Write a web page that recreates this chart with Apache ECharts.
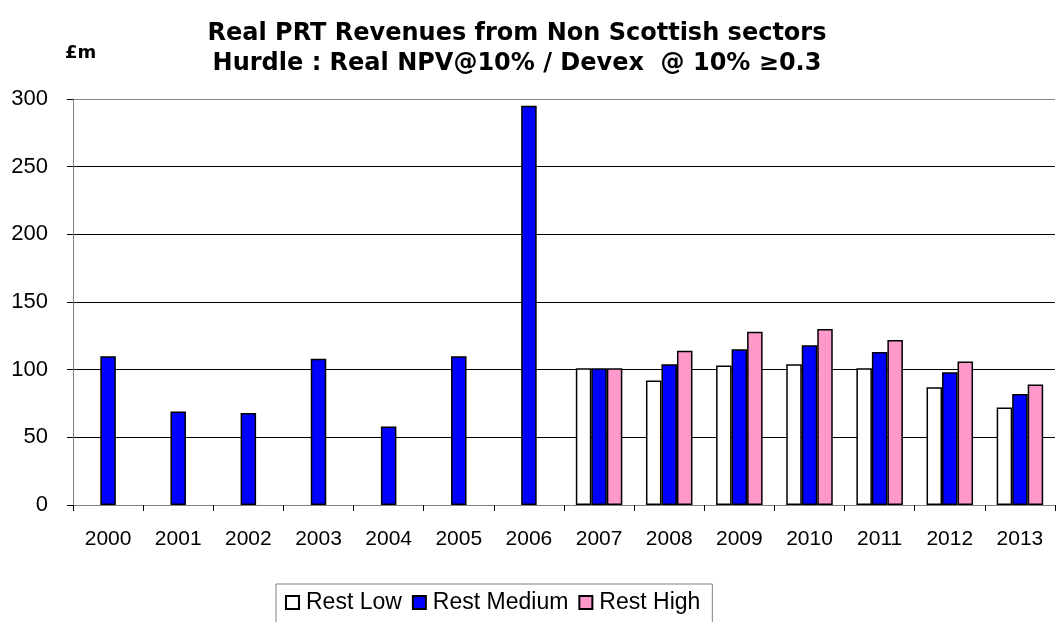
<!DOCTYPE html>
<html>
<head>
<meta charset="utf-8">
<script src="https://cdn.jsdelivr.net/npm/echarts@6/dist/echarts.min.js"></script>
<style>
html,body{margin:0;padding:0;background:#fff;}
#chart{width:1056px;height:622px;}
</style>
</head>
<body>
<div id="chart"></div>
<script>
const categories = ['2000','2001','2002','2003','2004','2005','2006','2007','2008','2009','2010','2011','2012','2013'];
const restLow    = [null, null, null, null, null, null, null, 101, 92, 103, 104, 101, 87, 72];
const restMedium = [110, 69, 68, 108, 58, 110, 295, 101, 104, 115, 118, 113, 98, 82];
const restHigh   = [null, null, null, null, null, null, null, 101, 114, 128, 130, 122, 106, 89];
const yTicks = [0, 50, 100, 150, 200, 250, 300];

const chart = echarts.init(document.getElementById('chart'));
const barBorder = {borderColor:'#000', borderWidth:1.5};
chart.setOption({
  animation:false,
  backgroundColor:'#fff',
  title:[{
    text:'Real PRT Revenues from Non Scottish sectors\nHurdle : Real NPV@10% / Devex  @ 10% \u22650.3',
    left:512, top:14, textAlign:'center',
    textStyle:{fontFamily:'DejaVu Sans', fontWeight:'bold', fontSize:24, lineHeight:30, color:'#000'}
  },{
    text:'£m', left:60, top:39,
    textStyle:{fontFamily:'DejaVu Sans', fontWeight:'bold', fontSize:18, color:'#000'}
  }],
  legend:{
    left:276, top:584,
    padding:[7,12,40,9],
    borderColor:'#808080', borderWidth:1,
    itemWidth:13, itemHeight:13, itemGap:10,
    icon:'rect',
    textStyle:{fontFamily:'Liberation Sans', fontSize:23, color:'#000', padding:[0,0,0,2]},
    data:['Rest Low','Rest Medium','Rest High']
  },
  grid:{left:73, right:1, top:99, bottom:117, containLabel:false},
  xAxis:{
    type:'category', data:categories,
    axisLine:{lineStyle:{color:'#808080', width:1}},
    axisTick:{show:true, length:6, lineStyle:{color:'#000'}},
    axisLabel:{fontFamily:'Liberation Sans', fontSize:21, color:'#000', margin:24}
  },
  yAxis:{
    type:'value', min:yTicks[0], max:yTicks[yTicks.length-1], interval:50,
    axisLine:{show:true, lineStyle:{color:'#808080', width:1}},
    axisTick:{show:true, length:6, lineStyle:{color:'#000'}},
    axisLabel:{fontFamily:'Liberation Sans', fontSize:22, color:'#000', margin:25},
    splitLine:{show:true, lineStyle:{color:['#000','#000','#000','#000','#000','#000','#888'], width:1}}
  },
  series:[
    {name:'Rest Low', type:'bar', data:restLow, barWidth:15.5, barGap:'0%', itemStyle:Object.assign({color:'#FFFFFF'}, barBorder)},
    {name:'Rest Medium', type:'bar', data:restMedium, barWidth:15.5, barGap:'0%', itemStyle:Object.assign({color:'#0000FF'}, barBorder)},
    {name:'Rest High', type:'bar', data:restHigh, barWidth:15.5, barGap:'0%', itemStyle:Object.assign({color:'#FF99CC'}, barBorder)}
  ]
});
</script>
</body>
</html>
